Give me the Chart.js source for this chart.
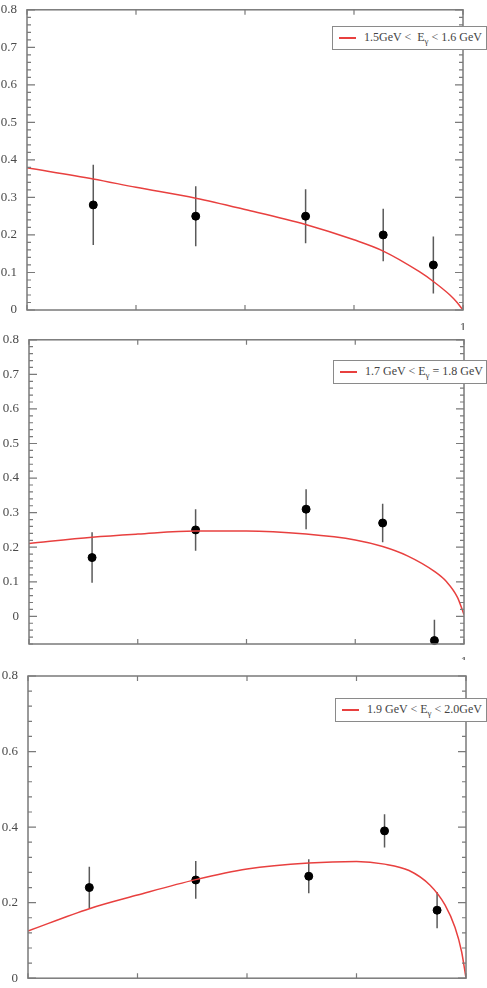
<!DOCTYPE html>
<html>
<head>
<meta charset="utf-8">
<script src="https://cdn.jsdelivr.net/npm/chart.js@4/dist/chart.umd.min.js"></script>
<style>
  body { margin: 0; background: #fff; }
  #wrap { position: relative; width: 487px; height: 988px; overflow: hidden; }
  canvas { position: absolute; left: 0; }
  .leg {
    position: absolute; background: #fff; border: 1.5px solid #8a8a8a;
    font-family: "Liberation Serif", "DejaVu Serif", serif; font-size: 12px; color: #444;
    box-sizing: border-box; white-space: nowrap;
  }
  .leg .ln { position: absolute; left: 6px; top: 10px; width: 17px; height: 1.5px; background: #e8403f; }
  .leg .tx { position: absolute; left: 31px; top: 3px; }
  .leg sub { font-size: 9px; vertical-align: -3px; line-height: 0; }
</style>
</head>
<body>
<div id="wrap">
  <canvas id="c1" width="487" height="330" style="top:0"></canvas>
  <canvas id="c2" width="487" height="330" style="top:330px"></canvas>
  <canvas id="c3" width="487" height="328" style="top:660px"></canvas>
  <div class="leg" style="left:332px;top:26px;width:155px;height:24px"><div class="ln"></div><div class="tx">1.5GeV &lt;&nbsp; E<sub>γ</sub> &lt; 1.6 GeV</div></div>
  <div class="leg" style="left:333px;top:360px;width:154px;height:24px"><div class="ln"></div><div class="tx">1.7 GeV &lt; E<sub>γ</sub> = 1.8 GeV</div></div>
  <div class="leg" style="left:335px;top:698px;width:152px;height:24px"><div class="ln"></div><div class="tx">1.9 GeV &lt; E<sub>γ</sub> &lt; 2.0GeV</div></div>
</div>
<script>
// tick positions
const xTicks = [0, 0.25, 0.5, 0.75, 1];
const yTicks1 = [0, 0.1, 0.2, 0.3, 0.4, 0.5, 0.6, 0.7, 0.8];
const yTicks2 = [0, 0.1, 0.2, 0.3, 0.4, 0.5, 0.6, 0.7, 0.8];
const yTicks3 = [0, 0.2, 0.4, 0.6, 0.8];

// panel 1 : 1.5 - 1.6 GeV
const pts1X = [0.152, 0.387, 0.639, 0.817, 0.932];
const pts1Y = [0.28, 0.25, 0.25, 0.20, 0.12];
const pts1Err = [0.107, 0.08, 0.072, 0.07, 0.076];
const fit1X = [0, 0.152, 0.25, 0.387, 0.5, 0.639, 0.75, 0.817, 0.9, 0.932, 0.97, 0.985, 1];
const fit1Y = [0.379, 0.349, 0.327, 0.298, 0.268, 0.228, 0.187, 0.157, 0.102, 0.076, 0.04, 0.022, 0];

// panel 2 : 1.7 - 1.8 GeV
const pts2X = [0.145, 0.383, 0.637, 0.813, 0.932];
const pts2Y = [0.17, 0.25, 0.31, 0.27, -0.07];
const pts2Err = [0.073, 0.06, 0.058, 0.056, 0.06];
const fit2X = [0, 0.145, 0.25, 0.383, 0.5, 0.637, 0.75, 0.813, 0.87, 0.932, 0.96, 0.985, 1];
const fit2Y = [0.211, 0.229, 0.238, 0.247, 0.247, 0.238, 0.221, 0.202, 0.175, 0.13, 0.1, 0.055, 0.005];

// panel 3 : 1.9 - 2.0 GeV
const pts3X = [0.140, 0.383, 0.641, 0.814, 0.934];
const pts3Y = [0.24, 0.26, 0.27, 0.39, 0.18];
const pts3Err = [0.055, 0.05, 0.045, 0.044, 0.048];
const fit3X = [0, 0.14, 0.25, 0.383, 0.5, 0.641, 0.75, 0.814, 0.87, 0.918, 0.952, 0.975, 0.99, 1];
const fit3Y = [0.125, 0.184, 0.22, 0.261, 0.289, 0.305, 0.309, 0.302, 0.285, 0.246, 0.194, 0.134, 0.07, 0];

const AXIS = '#7a7a7a';
const TXT = '#4a4a4a';
const FONT = { family: '"Liberation Serif", "DejaVu Serif", serif', size: 13 };

const pair = (xs, ys) => xs.map((x, i) => ({ x, y: ys[i] }));

// error bars, frame and inward ticks
const framePlugin = {
  id: 'frame',
  beforeDatasetsDraw(chart, args, opts) {
    const { ctx, chartArea: a, scales: { x, y } } = chart;
    ctx.save();
    ctx.beginPath();
    ctx.rect(a.left, a.top, a.right - a.left, a.bottom - a.top);
    ctx.clip();
    ctx.strokeStyle = '#5a5a5a';
    ctx.lineWidth = 1.5;
    opts.px.forEach((px, i) => {
      const xp = x.getPixelForValue(px);
      ctx.beginPath();
      ctx.moveTo(xp, y.getPixelForValue(opts.py[i] - opts.err[i]));
      ctx.lineTo(xp, y.getPixelForValue(opts.py[i] + opts.err[i]));
      ctx.stroke();
    });
    ctx.restore();
  },
  afterDraw(chart, args, opts) {
    const { ctx, chartArea: a, scales: { x, y } } = chart;
    ctx.save();
    ctx.strokeStyle = AXIS;
    ctx.lineWidth = 1.5;
    ctx.strokeRect(a.left, a.top, a.right - a.left, a.bottom - a.top);
    ctx.lineWidth = 1.2;
    ctx.beginPath();
    opts.yMajor.forEach(v => {
      const p = y.getPixelForValue(v);
      ctx.moveTo(a.left, p); ctx.lineTo(a.left + 8, p);
      ctx.moveTo(a.right, p); ctx.lineTo(a.right - 8, p);
    });
    const st = opts.yMinor;
    for (let k = Math.ceil(y.min / st - 1e-6); k * st <= y.max + 1e-6; k++) {
      const p = y.getPixelForValue(k * st);
      ctx.moveTo(a.left, p); ctx.lineTo(a.left + 4, p);
      ctx.moveTo(a.right, p); ctx.lineTo(a.right - 4, p);
    }
    xTicks.forEach(v => {
      const p = x.getPixelForValue(v);
      ctx.moveTo(p, a.bottom); ctx.lineTo(p, a.bottom - 5);
      ctx.moveTo(p, a.top); ctx.lineTo(p, a.top + 5);
    });
    ctx.stroke();
    ctx.restore();
  }
};

function makePanel(id, p) {
  const ctx = document.getElementById(id).getContext('2d');
  return new Chart(ctx, {
    data: {
      datasets: [
        {
          type: 'line',
          data: pair(p.fitX, p.fitY),
          borderColor: '#e8403f',
          borderWidth: 1.5,
          pointRadius: 0,
          cubicInterpolationMode: 'monotone',
          fill: false
        },
        {
          type: 'scatter',
          data: pair(p.ptsX, p.ptsY),
          backgroundColor: '#000',
          borderColor: '#000',
          pointRadius: 4,
          clip: false
        }
      ]
    },
    options: {
      responsive: false,
      devicePixelRatio: 1,
      animation: false,
      layout: { padding: p.pad },
      plugins: {
        legend: { display: false },
        tooltip: { enabled: false },
        frame: { px: p.ptsX, py: p.ptsY, err: p.err, yMajor: p.yTicks, yMinor: p.minor }
      },
      scales: {
        x: {
          type: 'linear', min: 0, max: 1,
          grid: { display: false }, border: { display: false },
          afterBuildTicks: s => { s.ticks = xTicks.map(v => ({ value: v })); },
          afterFit: s => { s.height = p.xh; },
          ticks: { font: FONT, color: TXT, padding: 2, maxRotation: 0, autoSkip: false,
                   callback: v => (v === 1 ? '1' : '') }
        },
        y: {
          type: 'linear', min: p.ymin, max: p.ymax,
          grid: { display: false }, border: { display: false },
          afterBuildTicks: s => { s.ticks = p.yTicks.map(v => ({ value: v })); },
          afterFit: s => { s.width = p.yw; },
          ticks: { font: FONT, color: TXT, padding: 2, autoSkip: false }
        }
      }
    },
    plugins: [framePlugin]
  });
}

makePanel('c1', { ptsX: pts1X, ptsY: pts1Y, err: pts1Err, fitX: fit1X, fitY: fit1Y,
  yTicks: yTicks1, minor: 0.02, ymin: 0, ymax: 0.8,
  pad: { top: 4, right: 24, bottom: 0, left: 0 }, yw: 27, xh: 20 });

makePanel('c2', { ptsX: pts2X, ptsY: pts2Y, err: pts2Err, fitX: fit2X, fitY: fit2Y,
  yTicks: yTicks2, minor: 0.02, ymin: -0.08, ymax: 0.8,
  pad: { top: 9, right: 23, bottom: 0, left: 0 }, yw: 29, xh: 16 });

makePanel('c3', { ptsX: pts3X, ptsY: pts3Y, err: pts3Err, fitX: fit3X, fitY: fit3Y,
  yTicks: yTicks3, minor: 0.04, ymin: 0, ymax: 0.8,
  pad: { top: 16, right: 21, bottom: 0, left: 0 }, yw: 28, xh: 3 });
</script>
</body>
</html>
